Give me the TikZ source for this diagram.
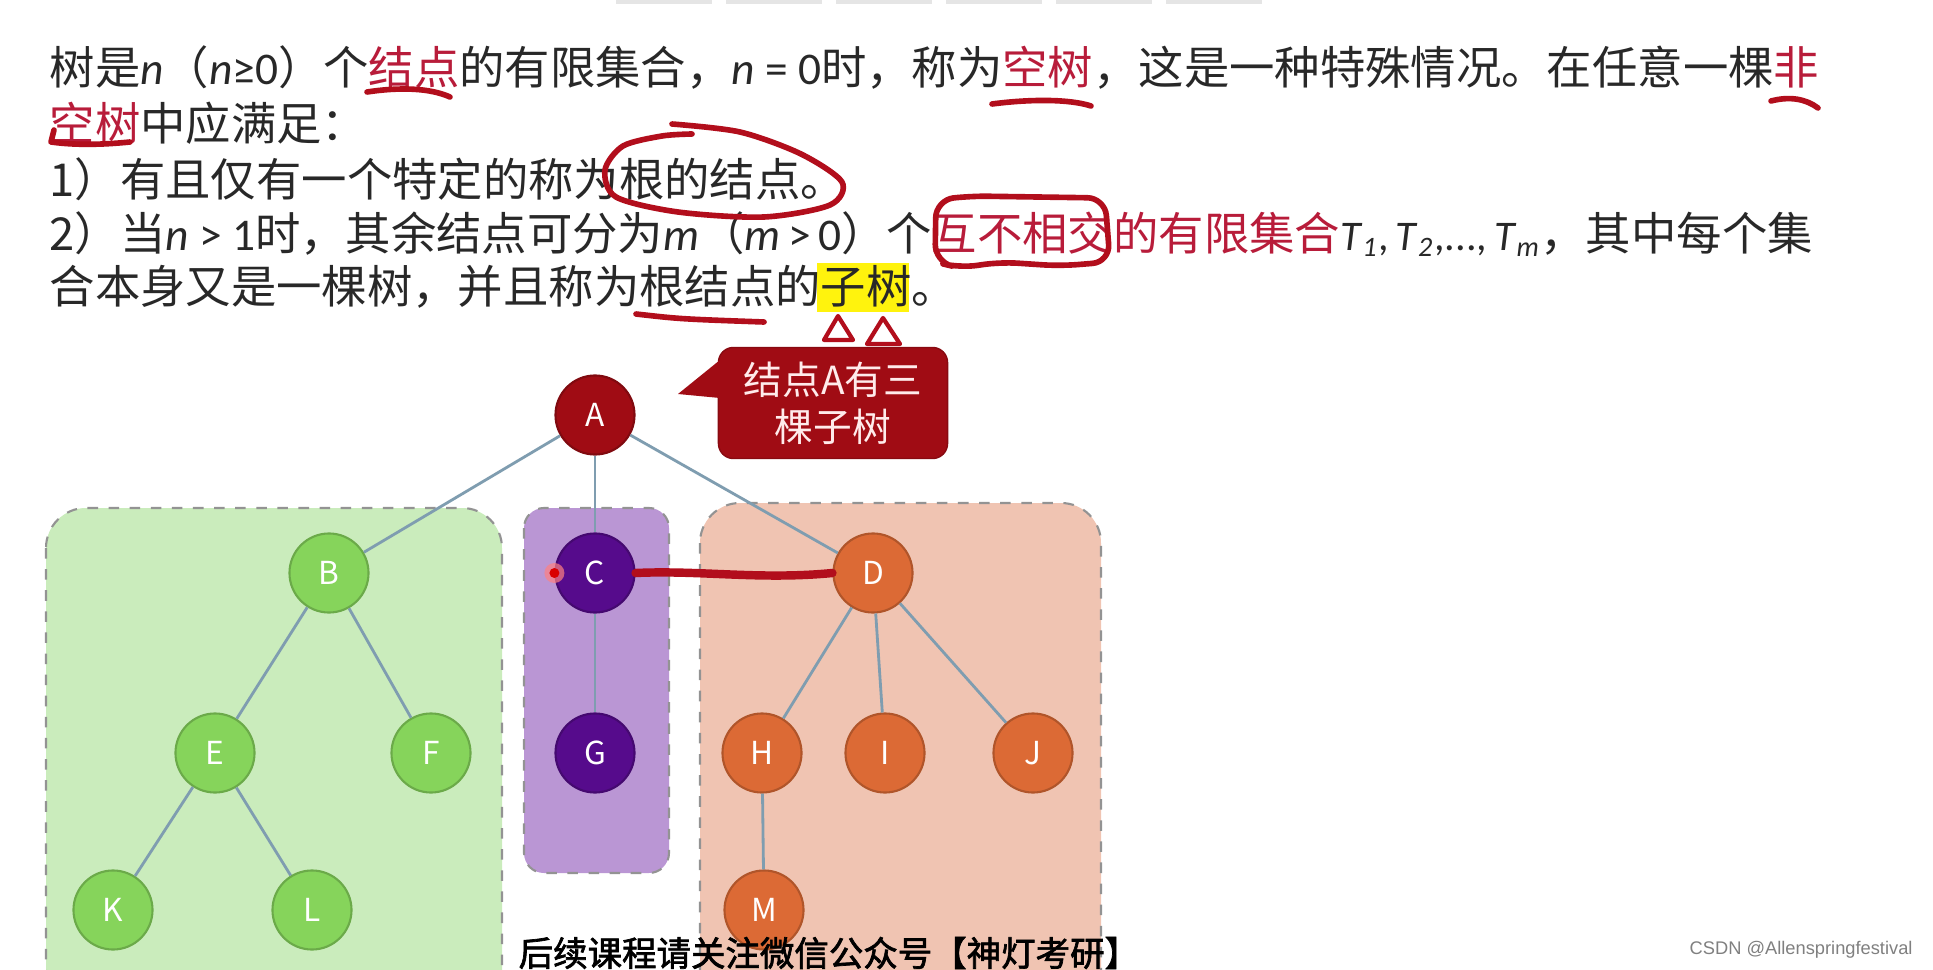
\documentclass[tikz,border=0pt]{standalone}
\usepackage{fontspec}
\setmainfont{Noto Sans CJK SC}[AutoFakeSlant=0.2,AutoFakeBold=2]
\newfontfamily\latinsans{Liberation Sans}
\newfontfamily\lat{Carlito}
\usetikzlibrary{arrows,shapes}
\definecolor{linegray}{RGB}{127,157,176}
\definecolor{keyred}{RGB}{184,28,58}
\definecolor{penred}{RGB}{178,14,28}
\definecolor{rootred}{RGB}{160,12,20}
\definecolor{greennode}{RGB}{134,212,91}
\definecolor{purplenode}{RGB}{86,11,140}
\definecolor{orangenode}{RGB}{220,106,53}
\definecolor{greenbox}{RGB}{202,236,188}
\definecolor{purplebox}{RGB}{186,150,212}
\definecolor{orangebox}{RGB}{240,196,178}
\definecolor{bodytext}{RGB}{40,40,40}
\tikzstyle{vertex}=[circle,minimum size=0.79cm,inner sep=0pt,text=white,font=\fontsize{9}{10}\selectfont,line width=0.6pt]
\tikzstyle{greenvertex}=[vertex,fill=greennode,draw=greennode!80!black]
\tikzstyle{purplevertex}=[vertex,fill=purplenode,draw=purplenode!80!black]
\tikzstyle{orangevertex}=[vertex,fill=orangenode,draw=orangenode!80!black]
\tikzstyle{rootvertex}=[vertex,fill=rootred,draw=rootred!80!black]
\tikzstyle{link}=[draw,linegray,line width=0.8pt]
\tikzstyle{subtree}=[draw=gray!85,dashed,rounded corners=0.4cm,line width=0.6pt]
\tikzstyle{textline}=[anchor=west,inner sep=0pt,text=bodytext,font=\fontsize{12.9}{15}\selectfont]
\tikzstyle{pen}=[penred,line width=1.6pt,line cap=round,line join=round]
\newcommand{\kw}[1]{\textcolor{keyred}{#1}}
\newcommand{\la}[1]{{\lat #1}}

\begin{document}
\begin{tikzpicture}[x=0.01cm,y=-0.01cm]

    \useasboundingbox (0,0) rectangle (1933,970);
    \fill[white] (0,0) rectangle (1933,970);
    \clip (0,0) rectangle (1933,970);

    \foreach \x in {616,726,836,946,1056,1166}
        \fill[black!10] (\x,0) rectangle ++(96,4);

    % text of the slide
    \fill[yellow!95!white] (817,263) rectangle (909,312);
    \node[textline] (l1) at (49,68) {树是\la{\textit{n}}（\la{\textit{n}≥0}）个\kw{结点}的有限集合，\la{\textit{n} = 0}时，称为\kw{空树}，这是一种特殊情况。在任意一棵\kw{非}};
    \node[textline] (l2) at (49,123) {\kw{空树}中应满足：};
    \node[textline] (l3) at (49,179) {1）有且仅有一个特定的称为根的结点。};
    \node[textline] (l4) at (49,234) {2）当\la{\textit{n} > 1}时，其余结点可分为\la{\textit{m}}（\la{\textit{m}\,>\,0}）个\kw{互不相交的有限集合}\la{\fontsize{12}{15}\selectfont\textit{T}\textsubscript{\textit{1}},\,\textit{T}\textsubscript{\textit{2}},...,\,\textit{T}\textsubscript{\textit{m}}}，其中每个集};
    \node[textline] (l5) at (49,287) {合本身又是一棵树，并且称为根结点的子树。};

    % subtrees
    \path[subtree, fill=greenbox] (46,508) rectangle (502,1010);
    \path[subtree, fill=purplebox, rounded corners=0.2cm] (524,508) rectangle (669,873);
    \path[subtree, fill=orangebox] (700,503) rectangle (1101,1010);

    \node[rootvertex] (A) at (595,415) {A};
    \foreach \x/\y/\name in {329/573/B, 215/753/E, 431/753/F, 113/910/K, 312/910/L}
        \node[greenvertex] (\name) at (\x,\y) {\name};
    \foreach \x/\y/\name in {595/573/C, 595/753/G}
        \node[purplevertex] (\name) at (\x,\y) {\name};
    \foreach \x/\y/\name in {873/573/D, 762/753/H, 885/753/I, 1033/753/J, 764/910/M}
        \node[orangevertex] (\name) at (\x,\y) {\name};

    \foreach \source/\dest in {A/B,A/C,A/D,B/E,B/F,E/K,E/L,C/G,D/H,D/I,D/J,H/M}
        \path[link] (\source) -- (\dest);

    % callout
    \node[rounded corners=0.15cm, fill=rootred, draw=rootred!85!black, minimum width=2.29cm, minimum height=1.11cm, align=center, text=red!8!white, font=\fontsize{11}{13.4}\selectfont] (note) at (833,403) {结点A有三\\棵子树};
    \coordinate (tip) at (678,394);
    \fill[rootred] (tip) -- (720,360) -- (720,398) -- cycle;

    % pen marks
    \draw[pen] (367,92) .. controls (400,87) and (430,88) .. (450,97);
    \draw[pen] (992,104) .. controls (1030,99) and (1070,99) .. (1091,106);
    \draw[pen] (1771,101) .. controls (1790,96) and (1806,99) .. (1818,108);
    \draw[pen] (54,130) -- (51,142) .. controls (80,146) and (110,144) .. (130,142);
    \draw[pen] plot[smooth] coordinates {(672,124) (740,132) (801,154) (842,182) (830,205) (764,217) (678,212) (616,197) (605,170) (623,146) (662,136) (692,134)};
    \draw[pen, rounded corners=5] (936,200) -- (970,196) -- (1105,198) -- (1110,262) -- (1060,266) -- (1000,262) -- (960,268) -- (935,262) -- cycle;
    \draw[pen] (636,314) .. controls (680,319) .. (764,322);
    \draw[pen, fill=white, line width=1.2pt] (838,316) -- (853,340) -- (824,340) -- cycle;
    \draw[pen, fill=white, line width=1.2pt] (883,318) -- (900,344) -- (867,344) -- cycle;

    \draw[pen, line width=2.4pt] (C.east) .. controls (700,570) and (760,580) .. (D.west);
    \fill[red!50!white, opacity=0.7] (C.west) circle (10);
    \fill[red!85!black] (C.west) circle (5);

    \node[anchor=west, inner sep=0pt, font=\bfseries\fontsize{9.8}{11}\selectfont] (wm) at (518,953) {后续课程请关注微信公众号【神灯考研】};
    \node[anchor=west, inner sep=0pt, text=gray, font=\latinsans\fontsize{5.2}{6}\selectfont] (csdn) at (1689,950) {CSDN @Allenspringfestival};

\end{tikzpicture}
\end{document}
